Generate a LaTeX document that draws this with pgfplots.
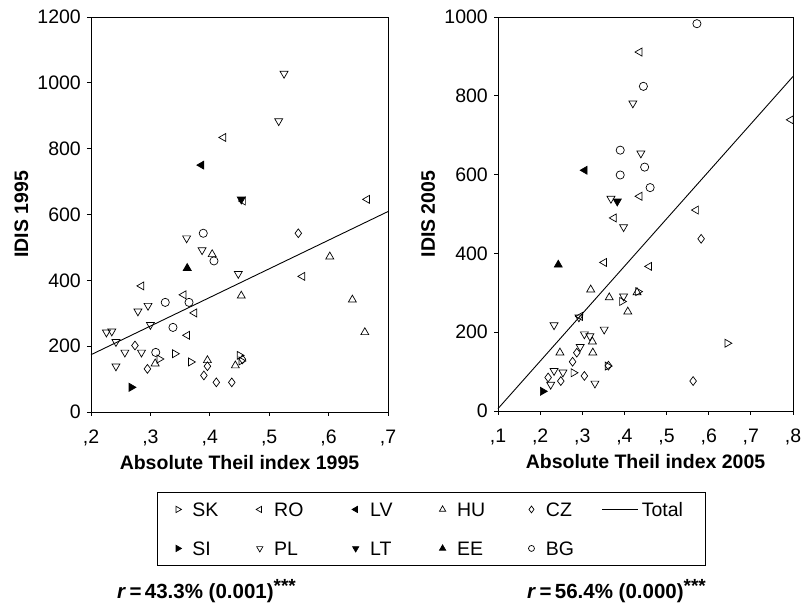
\documentclass[border=0pt]{standalone}
\usepackage{pgfplots}
\pgfplotsset{compat=1.18}
\usepackage{fontspec}
\setmainfont{Liberation Sans}
\newcommand{\tfont}{\fontsize{19.5}{23}\selectfont}
\newcommand{\stars}{\raisebox{6pt}{\fontsize{19}{21}\selectfont ***}}
\pgfplotsset{
  myaxis/.style={
    scale only axis,
    anchor=south west,
    axis line style={line width=0.9pt, black},
    every tick/.style={line width=0.9pt, black},
    tick align=outside,
    major tick length=4pt,
    tick pos=left,
    clip=false,
    /pgf/number format/assume math mode=true,
    /pgf/number format/1000 sep={},
    every tick label/.append style={font=\tfont, inner sep=0pt},
    xticklabel style={anchor=base, yshift=-28pt},
    yticklabel style={anchor=east, xshift=-6pt},
    every axis x label/.style={anchor=base, font=\bfseries\tfont, inner sep=0pt},
    every axis y label/.style={anchor=base, rotate=90, font=\bfseries\tfont, inner sep=0pt},
  },
  leg/.style={legend image code/.code={\path (-5pt,0pt) (14pt,0pt); \draw[##1, mark size=#1] plot coordinates {(0pt,0pt)};}},
  totleg/.style={legend image code/.code={\path (0pt,0pt) (39pt,0pt); \draw[##1] (0pt,0pt) -- (36pt,0pt);}},
  sSK/.style={black, only marks, mark=triangle, mark size=4.6pt, mark options={rotate=-90, fill=white, line width=0.7pt}, leg=3.6pt},
  sSI/.style={black, only marks, mark=triangle*, mark size=4.6pt, mark options={rotate=-90, fill=black, line width=0.7pt}, leg=3.6pt},
  sRO/.style={black, only marks, mark=triangle, mark size=4.6pt, mark options={rotate=90, fill=white, line width=0.7pt}, leg=3.6pt},
  sLV/.style={black, only marks, mark=triangle*, mark size=4.6pt, mark options={rotate=90, fill=black, line width=0.7pt}, leg=3.6pt},
  sPL/.style={black, only marks, mark=triangle, mark size=4.6pt, mark options={rotate=180, fill=white, line width=0.7pt}, leg=3.6pt},
  sLT/.style={black, only marks, mark=triangle*, mark size=4.6pt, mark options={rotate=180, fill=black, line width=0.7pt}, leg=3.6pt},
  sHU/.style={black, only marks, mark=triangle, mark size=4.6pt, mark options={fill=white, line width=0.7pt}, leg=3.6pt},
  sEE/.style={black, only marks, mark=triangle*, mark size=4.6pt, mark options={fill=black, line width=0.7pt}, leg=3.6pt},
  sCZ/.style={black, only marks, mark=diamond, mark size=4.4pt, mark options={fill=white, line width=0.7pt}, leg=3.4pt},
  sBG/.style={black, only marks, mark=o, mark size=4.1pt, mark options={fill=white, line width=0.7pt}, leg=3.0pt},
}
\begin{document}
\tfont
\begin{tikzpicture}
\path[use as bounding box] (0pt,0pt) rectangle (804pt,604pt);
% ---------------- 1995 ----------------
\begin{axis}[myaxis,
  at={(91pt,192pt)}, width=297pt, height=395pt,
  xmin=0.2, xmax=0.7, ymin=0, ymax=1200,
  xtick={0.2,0.3,0.4,0.5,0.6,0.7},
  xticklabels={{,2},{,3},{,4},{,5},{,6},{,7}},
  ytick={0,200,400,600,800,1000,1200},
  xlabel={Absolute Theil index 1995},
  ylabel={IDIS 1995},
  x label style={at={(axis description cs:0.5,-0.1468)}},
  y label style={at={(axis description cs:-0.2121,0.5)}},
  legend columns=6,
  legend cell align=left,
  legend style={at={(0.2222,-0.2025)}, anchor=north west, draw=black, line width=0.9pt,
    inner xsep=15pt, inner ysep=5pt, column sep=0pt, row sep=15pt,
    nodes={inner sep=0pt, text height=19pt, text depth=5pt, font=\tfont}},
]
\addplot[sSK] coordinates {(0.341,177) (0.315,161) (0.368,152) (0.450,172) (0.453,155)};
\addlegendentry{\makebox[62pt][l]{SK}}
\addplot[sRO] coordinates {(0.423,834) (0.665,646) (0.556,412) (0.285,383) (0.356,356) (0.374,301) (0.362,233) (0.456,641)};
\addlegendentry{\makebox[76pt][l]{RO}}
\addplot[sLV] coordinates {(0.386,750)};
\addlegendentry{\makebox[67pt][l]{LV}}
\addplot[sHU] coordinates {(0.404,479) (0.602,472) (0.453,353) (0.640,341) (0.661,242) (0.396,157) (0.443,141) (0.308,147)};
\addlegendentry{\makebox[69pt][l]{HU}}
\addplot[sCZ] coordinates {(0.549,543) (0.274,202) (0.396,139) (0.295,131) (0.390,111) (0.411,90) (0.437,90) (0.455,160)};
\addlegendentry{\makebox[56pt][l]{CZ}}
\addplot[black, line width=0.9pt, totleg] coordinates {(0.2,174) (0.7,609)};
\addlegendentry{\makebox[49pt][l]{Total}}
\addplot[sSI] coordinates {(0.268,75)};
\addlegendentry{\makebox[62pt][l]{SI}}
\addplot[sPL] coordinates {(0.525,1028) (0.516,884) (0.361,528) (0.387,492) (0.448,420) (0.296,323) (0.279,306) (0.300,265) (0.226,242) (0.235,245) (0.242,213) (0.257,181) (0.285,181) (0.242,139)};
\addlegendentry{\makebox[76pt][l]{PL}}
\addplot[sLT] coordinates {(0.453,646)};
\addlegendentry{\makebox[67pt][l]{LT}}
\addplot[sEE] coordinates {(0.362,437)};
\addlegendentry{\makebox[69pt][l]{EE}}
\addplot[sBG] coordinates {(0.389,543) (0.407,459) (0.325,333) (0.365,333) (0.338,257) (0.309,181)};
\addlegendentry{\makebox[56pt][l]{BG}}
\end{axis}
% ---------------- 2005 ----------------
\begin{axis}[myaxis,
  at={(498pt,193pt)}, width=295pt, height=394pt,
  xmin=0.1, xmax=0.8, ymin=0, ymax=1000,
  xtick={0.1,0.2,0.3,0.4,0.5,0.6,0.7,0.8},
  xticklabels={{,1},{,2},{,3},{,4},{,5},{,6},{,7},{,8}},
  ytick={0,200,400,600,800,1000},
  xlabel={Absolute Theil index 2005},
  ylabel={IDIS 2005},
  x label style={at={(axis description cs:0.5,-0.1472)}},
  y label style={at={(axis description cs:-0.2136,0.5)}},
]
\addplot[sSK] coordinates {(0.394,278) (0.432,303) (0.644,172) (0.279,97) (0.360,114)};
\addplot[sRO] coordinates {(0.436,911) (0.795,739) (0.436,545) (0.570,510) (0.375,490) (0.352,377) (0.459,367) (0.295,240)};
\addplot[sLV] coordinates {(0.306,611)};
\addplot[sHU] coordinates {(0.320,308) (0.364,288) (0.430,301) (0.408,252) (0.324,176) (0.247,148) (0.325,148)};
\addplot[sCZ] coordinates {(0.582,437) (0.287,148) (0.277,125) (0.362,115) (0.305,89) (0.219,85) (0.249,76) (0.563,76)};
\addplot[black, line width=0.9pt] coordinates {(0.1,6) (0.8,849)};
\addplot[sSI] coordinates {(0.206,50)};
\addplot[sPL] coordinates {(0.420,781) (0.439,654) (0.368,539) (0.398,467) (0.398,291) (0.292,238) (0.233,218) (0.352,207) (0.305,195) (0.318,190) (0.295,163) (0.233,102) (0.254,98) (0.225,67) (0.330,70)};
\addplot[sLT] coordinates {(0.383,532)};
\addplot[sEE] coordinates {(0.243,371)};
\addplot[sBG] coordinates {(0.572,983) (0.445,824) (0.390,662) (0.448,619) (0.390,599) (0.461,567)};
\end{axis}
\node[anchor=base west, inner sep=0pt, font=\bfseries\fontsize{20.5}{24}\selectfont] at (117pt,5pt) {\textit{r}\,=\,43.3\% (0.001)\stars};
\node[anchor=base west, inner sep=0pt, font=\bfseries\fontsize{20.5}{24}\selectfont] at (527pt,5pt) {\textit{r}\,=\,56.4\% (0.000)\stars};
\end{tikzpicture}
\end{document}
